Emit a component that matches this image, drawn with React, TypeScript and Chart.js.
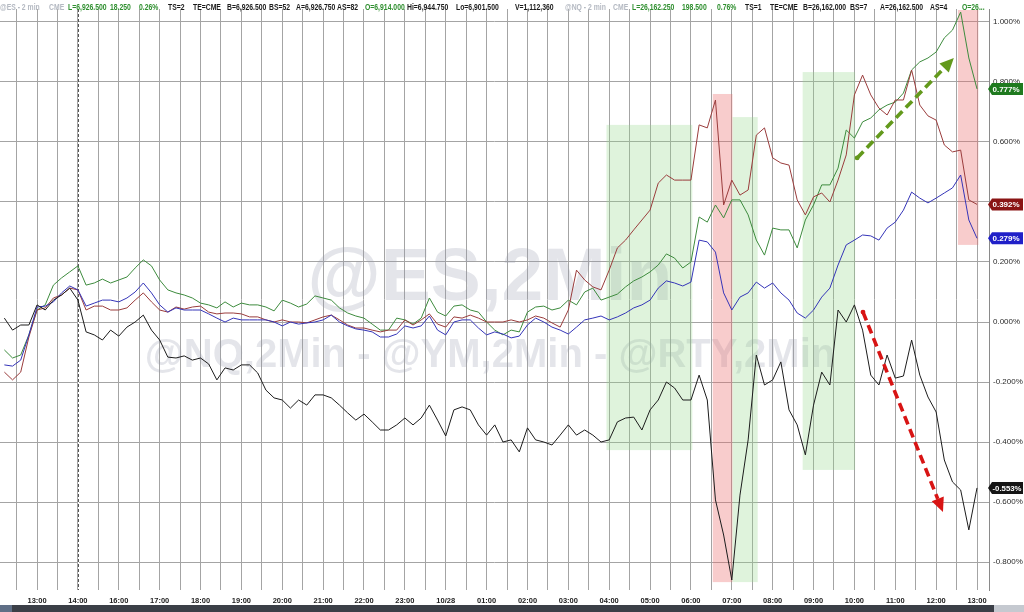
import React, { useEffect, useRef } from 'react';
import { Chart, registerables } from 'chart.js';

Chart.register(...registerables);

// ---- time grid (2-minute bars, 13:00 = bar 0, one hour = 30 bars) ----
const START_BAR = -24;
const BAR_STEP = 6;
const xTickLabels = ['13:00', '14:00', '16:00', '17:00', '18:00', '19:00', '20:00', '21:00', '22:00', '23:00', '10/28', '01:00', '02:00', '03:00', '04:00', '05:00', '06:00', '07:00', '08:00', '09:00', '10:00', '11:00', '12:00', '13:00'];
const yTickValues = [-0.8, -0.6, -0.4, -0.2, 0, 0.2, 0.4, 0.6, 0.8, 1.0];

// ---- series (% change) ----
const rty = [
  0.013, -0.027, -0.010, -0.010, 0.057, 0.040, 0.073, 0.090, 0.113, 0.073,
  -0.033, -0.043, -0.060, -0.027, -0.047, -0.017, 0.000, 0.023, -0.027, -0.060,
  -0.117, -0.120, -0.113, -0.127, -0.120, -0.140, -0.193, -0.153, -0.160, -0.143,
  -0.143, -0.170, -0.227, -0.253, -0.260, -0.287, -0.260, -0.277, -0.243, -0.243,
  -0.253, -0.277, -0.303, -0.327, -0.307, -0.333, -0.360, -0.360, -0.343, -0.320,
  -0.343, -0.320, -0.277, -0.327, -0.380, -0.293, -0.283, -0.293, -0.343, -0.377,
  -0.343, -0.400, -0.393, -0.433, -0.353, -0.393, -0.400, -0.410, -0.377, -0.343,
  -0.377, -0.360, -0.377, -0.400, -0.393, -0.333, -0.320, -0.317, -0.360, -0.293,
  -0.260, -0.200, -0.220, -0.260, -0.260, -0.177, -0.260, -0.593, -0.710, -0.860,
  -0.577, -0.393, -0.110, -0.210, -0.193, -0.133, -0.293, -0.343, -0.443, -0.277,
  -0.167, -0.210, 0.040, 0.000, 0.057, -0.027, -0.177, -0.210, -0.110, -0.187,
  -0.180, -0.060, -0.177, -0.250, -0.300, -0.460, -0.533, -0.560, -0.693, -0.553,
];
const es = [
  -0.143, -0.147, -0.127, -0.043, 0.050, 0.053, 0.067, 0.097, 0.120, 0.107,
  0.053, 0.063, 0.073, 0.073, 0.067, 0.080, 0.100, 0.130, 0.097, 0.057,
  0.033, 0.047, 0.040, 0.040, 0.040, 0.027, 0.013, 0.000, 0.013, 0.007,
  0.007, 0.007, 0.007, 0.000, -0.013, 0.000, -0.007, -0.003, 0.000, 0.007,
  0.023, 0.000, -0.013, -0.023, -0.027, -0.033, -0.050, -0.050, -0.040, -0.013,
  -0.020, -0.013, 0.020, -0.027, -0.043, 0.000, 0.007, 0.007, -0.020, -0.043,
  -0.033, -0.040, -0.053, -0.047, -0.010, 0.013, 0.000, -0.017, -0.027, -0.040,
  -0.017, 0.007, 0.013, 0.020, 0.007, 0.017, 0.030, 0.047, 0.057, 0.073,
  0.113, 0.137, 0.130, 0.120, 0.133, 0.273, 0.267, 0.233, 0.097, 0.040,
  0.083, 0.097, 0.133, 0.113, 0.130, 0.097, 0.073, 0.030, 0.013, 0.040,
  0.083, 0.113, 0.190, 0.257, 0.273, 0.290, 0.287, 0.273, 0.313, 0.333,
  0.373, 0.433, 0.413, 0.397, 0.413, 0.430, 0.447, 0.490, 0.340, 0.279,
];
const nq = [
  -0.093, -0.120, -0.110, -0.043, 0.040, 0.057, 0.123, 0.147, 0.167, 0.187,
  0.123, 0.130, 0.143, 0.130, 0.140, 0.150, 0.180, 0.207, 0.187, 0.140,
  0.107, 0.097, 0.090, 0.080, 0.063, 0.057, 0.047, 0.067, 0.050, 0.063,
  0.057, 0.057, 0.050, 0.037, 0.073, 0.063, 0.050, 0.060, 0.087, 0.080,
  0.073, 0.047, 0.030, 0.020, 0.013, -0.007, -0.027, -0.027, 0.013, 0.007,
  -0.007, 0.013, 0.080, 0.033, 0.020, 0.053, 0.057, 0.040, 0.033, 0.000,
  -0.027, -0.043, -0.027, -0.033, 0.033, 0.050, 0.053, 0.040, 0.047, 0.073,
  0.057, 0.100, 0.113, 0.073, 0.083, 0.093, 0.117, 0.137, 0.150, 0.167,
  0.190, 0.227, 0.213, 0.180, 0.200, 0.350, 0.333, 0.390, 0.347, 0.407,
  0.407, 0.357, 0.273, 0.223, 0.313, 0.307, 0.307, 0.247, 0.340, 0.390,
  0.457, 0.457, 0.513, 0.640, 0.613, 0.667, 0.680, 0.707, 0.723, 0.733,
  0.763, 0.840, 0.867, 0.880, 0.900, 0.947, 0.973, 1.033, 0.880, 0.777,
];
const ym = [
  -0.167, -0.193, -0.167, -0.050, 0.040, 0.047, 0.080, 0.090, 0.113, 0.107,
  0.040, 0.053, 0.053, 0.040, 0.040, 0.047, 0.073, 0.097, 0.067, 0.040,
  0.033, 0.050, 0.043, 0.050, 0.053, 0.033, 0.027, 0.030, 0.030, 0.027,
  0.017, 0.017, 0.007, 0.000, 0.007, 0.000, 0.000, -0.003, 0.007, 0.017,
  0.023, 0.007, -0.010, -0.020, -0.020, -0.027, -0.033, -0.027, -0.027, 0.007,
  -0.010, 0.007, 0.027, -0.007, -0.017, 0.017, 0.013, 0.023, 0.013, 0.000,
  0.000, 0.000, 0.007, 0.000, 0.007, 0.020, 0.013, -0.003, -0.017, 0.040,
  0.173, 0.140, 0.117, 0.107, 0.173, 0.247, 0.273, 0.307, 0.340, 0.373,
  0.463, 0.490, 0.473, 0.473, 0.473, 0.657, 0.647, 0.740, 0.390, 0.473,
  0.423, 0.440, 0.623, 0.647, 0.547, 0.530, 0.523, 0.407, 0.357, 0.417,
  0.430, 0.400, 0.473, 0.557, 0.757, 0.823, 0.757, 0.713, 0.690, 0.740,
  0.740, 0.840, 0.723, 0.687, 0.673, 0.590, 0.567, 0.573, 0.407, 0.392,
];

// last-value tags
const tagValues = [0.777, 0.392, 0.279, -0.553];
const tagColors = ['#1f7a1f', '#8a1414', '#2020c8', '#151515'];

// highlighted zones (bar index / %)
const zoneX0 = [418, 496, 510.5, 562, 676];
const zoneX1 = [481, 510.5, 529, 600.5, 691];
const zoneTop = [0.657, 0.76, 0.683, 0.833, 1.04];
const zoneBottom = [-0.427, -0.867, -0.867, -0.493, 0.257];
const zoneKind = ['g', 'r', 'g', 'g', 'r'];

// dashed arrows (bar index / %)
const arrowX0 = [602, 606.3];
const arrowY0 = [0.547, 0.033];
const arrowX1 = [673, 665];
const arrowY1 = [0.88, -0.633];
const arrowColors = ['#63991c', '#d81414'];

// header strip
const headerTexts = ['@ES - 2 min', 'CME', 'L=6,926.500', '18.250', '0.26%', 'TS=2', 'TE=CME', 'B=6,926.500', 'BS=52', 'A=6,926.750', 'AS=82', 'O=6,914.000', 'Hi=6,944.750', 'Lo=6,901.500', 'V=1,112,360', '@NQ - 2 min', 'CME', 'L=26,162.250', '198.500', '0.76%', 'TS=1', 'TE=CME', 'B=26,162.000', 'BS=7', 'A=26,162.500', 'AS=4', 'O=26...'];
const headerKinds = ['g', 'g', 'G', 'G', 'G', 'k', 'k', 'k', 'k', 'k', 'k', 'G', 'k', 'k', 'k', 'g', 'g', 'G', 'G', 'G', 'k', 'k', 'k', 'k', 'k', 'k', 'G'];

const mainWatermark = '@ES,2Min';
const subWatermark = '@NQ,2Min - @YM,2Min - @RTY,2Min';

// ---- layout (not data) ----
const X_MIN = -27.2;
const X_MAX = 698.8;
const Y_MIN = -0.8933;
const Y_MAX = 1.0433;
const headerX = [0, 49, 68, 110, 139, 168, 193, 227, 269, 296, 337, 365, 407, 456, 515, 565, 613, 632, 682, 717, 745, 770, 803, 850, 880, 930, 962];
const FONT = '"Liberation Sans", Arial, sans-serif';

const gridBars: number[] = [];
for (let b = -15; b <= 690; b += 15) gridBars.push(b);

function toPoints(vals: number[]) {
  return vals.map((v, i) => ({ x: START_BAR + i * BAR_STEP, y: v }));
}

const decorPlugin = {
  id: 'decor',
  beforeDatasetsDraw(chart: any) {
    const { ctx, chartArea: ca, scales } = chart;
    const x = scales.x;
    const y = scales.y;
    ctx.save();
    ctx.beginPath();
    ctx.rect(ca.left, ca.top, ca.right - ca.left, ca.bottom - ca.top);
    ctx.clip();
    // watermarks
    ctx.fillStyle = 'rgba(150,156,172,0.26)';
    ctx.textAlign = 'center';
    ctx.textBaseline = 'alphabetic';
    ctx.font = `bold 75px ${FONT}`;
    ctx.fillText(mainWatermark, 490, 300);
    ctx.font = `bold 40px ${FONT}`;
    ctx.fillText(subWatermark, 490, 367);
    // zones
    for (let i = 0; i < zoneX0.length; i++) {
      const l = x.getPixelForValue(zoneX0[i]);
      const r = x.getPixelForValue(zoneX1[i]);
      const t = y.getPixelForValue(zoneTop[i]);
      const b = y.getPixelForValue(zoneBottom[i]);
      ctx.fillStyle = zoneKind[i] === 'g' ? 'rgba(150,215,140,0.30)' : 'rgba(235,110,110,0.35)';
      ctx.fillRect(l, t, r - l, b - t);
    }
    // session break dashed line at 14:00
    const sx = Math.round(x.getPixelForValue(30)) + 0.5;
    ctx.fillStyle = '#fff';
    ctx.fillRect(sx - 0.5, ca.top, 1, ca.bottom - ca.top);
    ctx.strokeStyle = '#555';
    ctx.lineWidth = 1;
    ctx.setLineDash([3, 2]);
    ctx.beginPath();
    ctx.moveTo(sx, ca.top);
    ctx.lineTo(sx, ca.bottom);
    ctx.stroke();
    ctx.restore();
  },
  afterDraw(chart: any) {
    const { ctx, scales } = chart;
    const x = scales.x;
    const y = scales.y;
    ctx.save();
    // arrows
    for (let i = 0; i < arrowX0.length; i++) {
      const x0 = x.getPixelForValue(arrowX0[i]);
      const y0 = y.getPixelForValue(arrowY0[i]);
      const x1 = x.getPixelForValue(arrowX1[i]);
      const y1 = y.getPixelForValue(arrowY1[i]);
      const ang = Math.atan2(y1 - y0, x1 - x0);
      const headLen = 14;
      const bx = x1 - headLen * Math.cos(ang);
      const by = y1 - headLen * Math.sin(ang);
      ctx.strokeStyle = arrowColors[i];
      ctx.fillStyle = arrowColors[i];
      ctx.lineWidth = 3.6;
      ctx.lineCap = 'butt';
      ctx.setLineDash([9, 5]);
      ctx.beginPath();
      ctx.moveTo(x0, y0);
      ctx.lineTo(bx, by);
      ctx.stroke();
      ctx.setLineDash([]);
      ctx.beginPath();
      ctx.arc(x0, y0, 2.4, 0, Math.PI * 2);
      ctx.fill();
      const w = 6.5;
      ctx.beginPath();
      ctx.moveTo(x1, y1);
      ctx.lineTo(bx + w * Math.sin(ang), by - w * Math.cos(ang));
      ctx.lineTo(bx - w * Math.sin(ang), by + w * Math.cos(ang));
      ctx.closePath();
      ctx.fill();
    }
    // value tags
    ctx.font = `bold 8px ${FONT}`;
    ctx.textAlign = 'left';
    ctx.textBaseline = 'middle';
    for (let i = 0; i < tagValues.length; i++) {
      const py = y.getPixelForValue(tagValues[i]);
      ctx.fillStyle = tagColors[i];
      ctx.beginPath();
      ctx.moveTo(988, py);
      ctx.lineTo(992, py - 6);
      ctx.lineTo(1023, py - 6);
      ctx.lineTo(1023, py + 6);
      ctx.lineTo(992, py + 6);
      ctx.closePath();
      ctx.fill();
      ctx.fillStyle = '#fff';
      const t = tagValues[i].toFixed(3) + '%';
      ctx.fillText(t, 992.5, py + 0.5, 29);
    }
    // header strip
    ctx.font = `bold 9px ${FONT}`;
    ctx.textBaseline = 'alphabetic';
    for (let i = 0; i < headerTexts.length; i++) {
      const k = headerKinds[i];
      ctx.fillStyle = k === 'g' ? '#b4b9c2' : k === 'G' ? '#2f8f2f' : '#1a1a1a';
      const w = ctx.measureText(headerTexts[i]).width * 0.76;
      ctx.fillText(headerTexts[i], headerX[i], 9.5, w);
    }
    // bottom status bar
    ctx.fillStyle = '#3b3f47';
    ctx.fillRect(0, 605, 1024, 7);
    ctx.fillStyle = '#5f6f86';
    ctx.fillRect(0, 605, 12, 7);
    ctx.fillStyle = '#c5c9d0';
    ctx.fillRect(994, 605, 30, 7);
    ctx.restore();
  },
};

export default function App() {
  const ref = useRef<HTMLCanvasElement | null>(null);
  useEffect(() => {
    document.body.style.margin = '0';
    const canvas = ref.current;
    if (!canvas) return;
    const chart = new Chart(canvas, {
      type: 'line',
      data: {
        datasets: [
          { label: 'RTY', data: toPoints(rty), borderColor: '#1c1c1c', borderWidth: 1, pointRadius: 0, tension: 0 },
          { label: 'ES', data: toPoints(es), borderColor: '#3434b8', borderWidth: 1, pointRadius: 0, tension: 0 },
          { label: 'YM', data: toPoints(ym), borderColor: '#9a3c3c', borderWidth: 1, pointRadius: 0, tension: 0 },
          { label: 'NQ', data: toPoints(nq), borderColor: '#3d8b3d', borderWidth: 1, pointRadius: 0, tension: 0 },
        ],
      },
      options: {
        responsive: false,
        animation: false,
        devicePixelRatio: 1,
        layout: { padding: { left: 0, right: 0, top: 9, bottom: 0 } },
        plugins: { legend: { display: false }, tooltip: { enabled: false } },
        scales: {
          x: {
            type: 'linear',
            min: X_MIN,
            max: X_MAX,
            afterBuildTicks: (s: any) => {
              s.ticks = gridBars.map((v) => ({ value: v }));
            },
            afterFit: (s: any) => {
              s.height = 22;
              s.paddingLeft = 0;
              s.paddingRight = 0;
            },
            ticks: {
              autoSkip: false,
              maxRotation: 0,
              minRotation: 0,
              padding: 6,
              color: '#222',
              font: { family: FONT, size: 7.5, weight: 'bold' },
              callback: (v: any) => {
                const n = Number(v);
                return n % 30 === 0 && n >= 0 ? xTickLabels[n / 30] ?? '' : '';
              },
            },
            grid: { color: '#a4a4a4', lineWidth: 1, drawTicks: false },
            border: { display: false },
          },
          y: {
            type: 'linear',
            position: 'right',
            min: Y_MIN,
            max: Y_MAX,
            afterBuildTicks: (s: any) => {
              s.ticks = yTickValues.map((v) => ({ value: v }));
            },
            afterFit: (s: any) => {
              s.width = 35;
            },
            ticks: {
              padding: 4,
              color: '#2a2a2a',
              font: { family: FONT, size: 8 },
              callback: (v: any) => Number(v).toFixed(3) + '%',
            },
            grid: { color: '#a4a4a4', lineWidth: 1, drawTicks: false },
            border: { display: true, color: '#8a8a8a', width: 1 },
          },
        },
      } as any,
      plugins: [decorPlugin],
    });
    return () => chart.destroy();
  }, []);
  return <canvas ref={ref} width={1024} height={612} style={{ display: 'block', width: 1024, height: 612 }} />;
}
